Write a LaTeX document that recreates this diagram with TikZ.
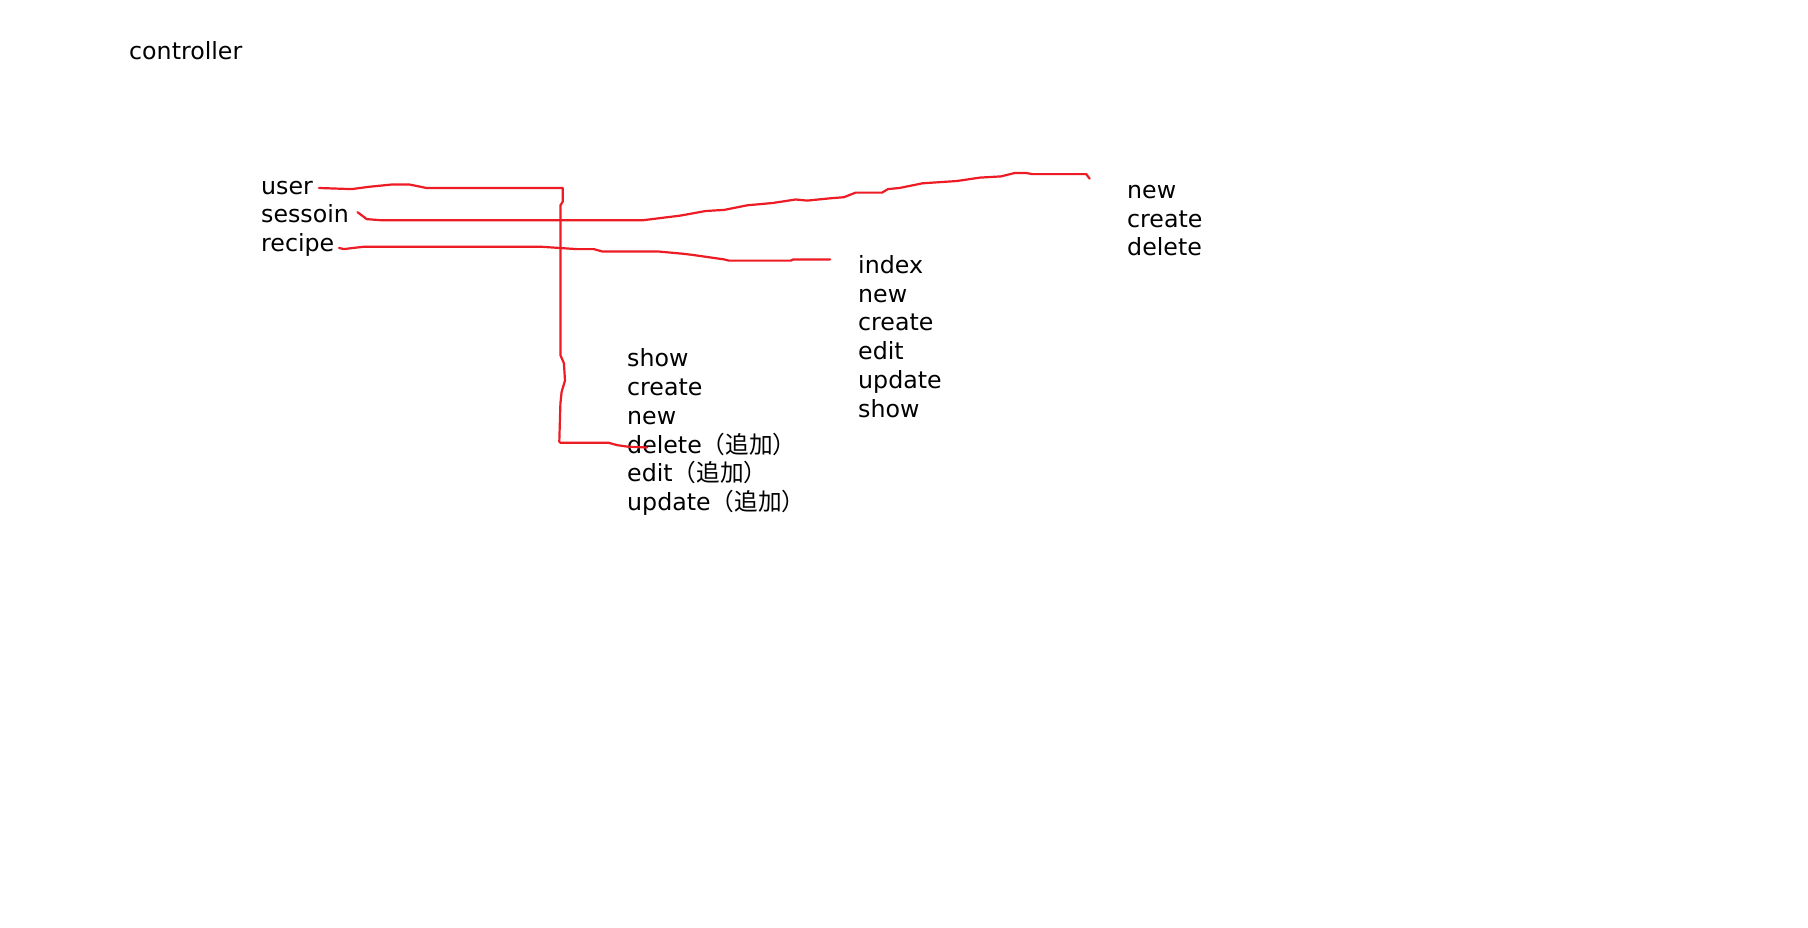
\documentclass[tikz,border=0pt]{standalone}
\usepackage{fontspec}
\setmainfont{DejaVu Sans}
\newfontfamily\cjk{Noto Sans CJK JP}
\definecolor{penred}{RGB}{237,28,36}
\begin{document}
\begin{tikzpicture}[x=1pt,y=-1pt,
  lbl/.style={anchor=base west,inner sep=0pt,font=\fontsize{23.7}{28}\selectfont},
  pen/.style={draw=penred,line width=2.2pt,line join=round,line cap=round}]
\useasboundingbox[fill=white] (0,0) rectangle (1808,927);

\node[lbl] (ctrl) at (129,59) {controller};
\node[lbl] (user) at (261,194) {user};
\node[lbl] (sess) at (261,222.8) {sessoin};
\node[lbl] (recipe) at (261,251.6) {recipe};

% sessions actions
\node[lbl] (sNew) at (1127,198.3) {new};
\node[lbl] (sCreate) at (1127,227.1) {create};
\node[lbl] (sDelete) at (1127,255.9) {delete};

% recipe actions
\node[lbl] (rIndex) at (858,273.2) {index};
\node[lbl] (rNew) at (858,302) {new};
\node[lbl] (rCreate) at (858,330.9) {create};
\node[lbl] (rEdit) at (858,359.7) {edit};
\node[lbl] (rUpdate) at (858,388.5) {update};
\node[lbl] (rShow) at (858,417.3) {show};

% user actions
\node[lbl] (uShow) at (627,366.6) {show};
\node[lbl] (uCreate) at (627,395.4) {create};
\node[lbl] (uNew) at (627,424.2) {new};
\node[lbl] (uDelete) at (627,453) {delete{\cjk （追加）}};
\node[lbl] (uEdit) at (627,481.9) {edit{\cjk （追加）}};
\node[lbl] (uUpdate) at (627,510.7) {update{\cjk （追加）}};

% connector ends
\coordinate (uS) at (319,188);
\coordinate (uE) at (647,447.5);
\coordinate (sS) at (357.5,212.2);
\coordinate (sE) at (1089.7,178.7);
\coordinate (rS) at (339,247.9);
\coordinate (rE) at (830.2,259.4);

% user -> user actions
\draw[pen] (uS) -- (351.7,189.1) -- (369,186.8) -- (392,184.5) -- (409.4,184.5)
  -- (426.6,188) -- (562.7,188) -- (562.7,201.8) -- (560.4,205.3) -- (560.4,230.6)
  -- (560.4,288.3) -- (560.4,355.2) -- (563.9,363.2) -- (565,380.5) -- (561.6,392)
  -- (560.4,403.6) -- (559.3,441.6) -- (560.4,442.8) -- (608.8,442.8)
  -- (616.9,445.1) -- (628,446.7) -- (uE);

% sessoin -> sessions actions
\draw[pen] (sS) -- (362,215.5) -- (366.7,219.1) -- (380.5,220.2) -- (643.4,220.2)
  -- (680.3,215.6) -- (705.7,211) -- (724.1,209.9) -- (747.2,205.3) -- (772.6,203)
  -- (795.6,199.5) -- (807.2,200.6) -- (830.2,198.3) -- (844,197.2) -- (855.6,192.6)
  -- (882.1,192.6) -- (887.9,189.1) -- (899.4,188) -- (922.5,183.3) -- (957,181)
  -- (980,177.6) -- (1000.9,176.4) -- (1014.7,173) -- (1026.3,173) -- (1032,174.1)
  -- (1086.2,174.1) -- (sE);

% recipe -> recipe actions
\draw[pen] (rS) -- (343.6,249.1) -- (363.2,246.8) -- (542,246.8) -- (576.6,249.1)
  -- (593.8,249.1) -- (601.9,251.4) -- (657.3,251.4) -- (682.6,253.7) -- (691.9,254.8)
  -- (724.1,259.4) -- (728.8,260.6) -- (791,260.6) -- (793.3,259.4) -- (rE);
\end{tikzpicture}
\end{document}
